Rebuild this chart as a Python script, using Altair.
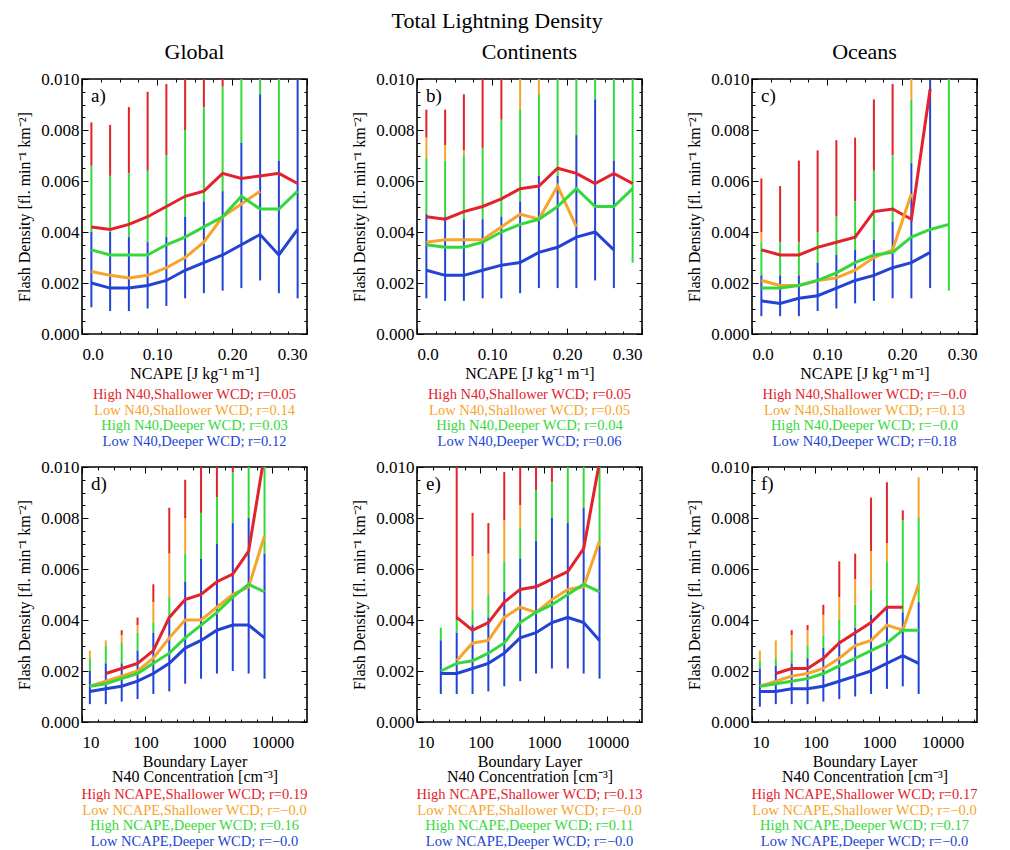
import altair as alt
import pandas as pd

FONT = "Liberation Serif"
W, H = 225, 255

SERIES = ["red", "orange", "green", "blue"]
COLORS = ["#e3222b", "#f6a52a", "#35d83c", "#2243d3"]

# bin centres
NCAPE_X = [0.0125, 0.0375, 0.0625, 0.0875, 0.1125, 0.1375, 0.1625, 0.1875, 0.2125, 0.2375, 0.2625, 0.2875]
N40_X = [13.3, 23.7, 42.2, 75.0, 133, 237, 422, 750, 1334, 2371, 4217, 7499]

# tick positions
NCAPE_MAJOR = [0.0, 0.1, 0.2, 0.3]
NCAPE_MINOR = [0.025, 0.05, 0.075, 0.125, 0.15, 0.175, 0.225, 0.25, 0.275]
N40_MAJOR = [10, 100, 1000, 10000]
N40_MINOR = [17.8, 31.6, 56.2, 178, 316, 562, 1778, 3162, 5623, 17783, 31623]
Y_MAJOR = [0.0, 0.002, 0.004, 0.006, 0.008, 0.010]
Y_MINOR = [0.0005, 0.001, 0.0015, 0.0025, 0.003, 0.0035, 0.0045, 0.005, 0.0055,
           0.0065, 0.007, 0.0075, 0.0085, 0.009, 0.0095]

# ---- a) Global vs NCAPE
A_RED = [0.0042, 0.0041, 0.0043, 0.0046, 0.0050, 0.0054, 0.0056, 0.0063, 0.0061, 0.0062, 0.0063, 0.0059]
A_RED_HI = [0.0083, 0.0082, 0.0089, 0.0095, 0.0098, 0.0112, 0.0118, 0.0121, 0.0110, 0.0105, 0.0100, 0.0095]
A_ORG = [0.00245, 0.0023, 0.0022, 0.0023, 0.0026, 0.0030, 0.0036, 0.0046, 0.0051, 0.0056, None, None]
A_ORG_HI = [0.0060, 0.0058, 0.0060, 0.0062, 0.0066, 0.0075, 0.0085, 0.0093, 0.0098, 0.0100, None, None]
A_GRN = [0.0033, 0.0031, 0.0031, 0.0031, 0.0035, 0.0038, 0.0042, 0.0046, 0.0054, 0.0049, 0.0049, 0.0056]
A_GRN_HI = [0.0066, 0.0062, 0.0063, 0.0064, 0.0070, 0.0080, 0.0089, 0.0097, 0.0125, 0.0120, 0.0115, 0.0098]
A_BLU = [0.0020, 0.0018, 0.0018, 0.0019, 0.0021, 0.0025, 0.0028, 0.0031, 0.0035, 0.0039, 0.0031, 0.0041]
A_BLU_HI = [0.0040, 0.0040, 0.0038, 0.0036, 0.0038, 0.0046, 0.0052, 0.0056, 0.0075, 0.0094, 0.0068, 0.0110]
A_LO = [0.00105, 0.0009, 0.0009, 0.0010, 0.0011, 0.0014, 0.0016, 0.0017, 0.0018, 0.0021, 0.0016, 0.0014]

# ---- b) Continents vs NCAPE
B_RED = [0.0046, 0.0045, 0.0048, 0.0050, 0.0053, 0.0057, 0.0058, 0.0065, 0.0063, 0.0059, 0.0063, 0.0059]
B_RED_HI = [0.0088, 0.0088, 0.0094, 0.0110, 0.0115, 0.0105, 0.0105, 0.0110, 0.0110, 0.0105, 0.0100, 0.0095]
B_ORG = [0.0036, 0.0037, 0.0037, 0.0037, 0.0042, 0.0047, 0.0045, 0.0058, 0.0042, None, None, None]
B_ORG_HI = [0.0077, 0.0074, 0.0072, 0.0070, 0.0080, 0.0115, 0.0115, 0.0100, 0.0095, None, None, None]
B_GRN = [0.0035, 0.0034, 0.0034, 0.0036, 0.0040, 0.0043, 0.0045, 0.0050, 0.0057, 0.0050, 0.0050, 0.0057]
B_GRN_HI = [0.0069, 0.0068, 0.0070, 0.0073, 0.0084, 0.0088, 0.0094, 0.0120, 0.0120, 0.0120, 0.0120, 0.0110]
B_BLU = [0.0025, 0.0023, 0.0023, 0.0025, 0.0027, 0.0028, 0.0032, 0.0034, 0.0038, 0.0040, 0.0033, None]
B_BLU_HI = [0.0047, 0.0046, 0.0045, 0.0045, 0.0046, 0.0052, 0.0062, 0.0062, 0.0078, 0.0092, 0.0068, None]
B_LO = [0.0014, 0.0013, 0.0013, 0.0014, 0.0014, 0.0016, 0.0018, 0.0018, 0.0018, 0.0021, 0.0018, 0.0028]

# ---- c) Oceans vs NCAPE
C_RED = [0.0033, 0.0031, 0.0031, 0.0034, 0.0036, 0.0038, 0.0048, 0.0049, 0.0045, 0.0096, None, None]
C_RED_HI = [0.0061, 0.0058, 0.0068, 0.0072, 0.0076, 0.0077, 0.0092, 0.0098, 0.0090, 0.0105, None, None]
C_ORG = [0.0021, 0.0019, 0.0019, 0.0021, 0.0022, 0.0025, 0.0030, 0.0033, 0.0055, None, None, None]
C_ORG_HI = [0.0040, 0.0034, 0.0034, 0.0038, 0.0044, 0.0050, 0.0060, 0.0066, 0.0100, None, None, None]
C_GRN = [0.0018, 0.0018, 0.0019, 0.0021, 0.0024, 0.0028, 0.0031, 0.0032, 0.0038, 0.0041, 0.0043, None]
C_GRN_HI = [0.0036, 0.0036, 0.0036, 0.0040, 0.0046, 0.0052, 0.0064, 0.0070, 0.0092, 0.0100, 0.0115, None]
C_BLU = [0.0013, 0.0012, 0.0014, 0.0015, 0.0018, 0.0021, 0.0023, 0.0026, 0.0028, 0.0032, None, None]
C_BLU_HI = [0.0023, 0.0023, 0.0023, 0.0028, 0.0031, 0.0033, 0.0037, 0.0044, 0.0067, 0.0115, None, None]
C_LO = [0.0007, 0.0007, 0.0007, 0.0009, 0.0010, 0.0012, 0.0013, 0.0014, 0.0014, 0.0018, 0.0017, None]

# ---- d) Global vs N40
D_RED = [None, 0.0019, 0.0021, 0.0023, 0.0028, 0.0041, 0.0048, 0.0050, 0.0055, 0.0058, 0.0067, 0.0105]
D_RED_HI = [None, 0.0030, 0.0036, 0.0041, 0.0054, 0.0084, 0.0095, 0.0115, 0.0120, 0.0115, 0.0100, 0.0100]
D_ORG = [0.0014, 0.0016, 0.0018, 0.0020, 0.0025, 0.0033, 0.0040, 0.0040, 0.0045, 0.0050, 0.0053, 0.0073]
D_ORG_HI = [0.0028, 0.0032, 0.0034, 0.0038, 0.0047, 0.0066, 0.0080, 0.0080, 0.0085, 0.0095, 0.0098, 0.0100]
D_GRN = [0.0014, 0.0015, 0.0017, 0.0019, 0.0023, 0.0027, 0.0033, 0.0038, 0.0043, 0.0049, 0.0054, 0.0051]
D_GRN_HI = [0.0025, 0.0030, 0.0031, 0.0035, 0.0039, 0.0049, 0.0066, 0.0082, 0.0088, 0.0098, 0.0120, 0.0120]
D_BLU = [0.0012, 0.0013, 0.0014, 0.0016, 0.0019, 0.0023, 0.0029, 0.0032, 0.0036, 0.0038, 0.0038, 0.0033]
D_BLU_HI = [0.0020, 0.0023, 0.0023, 0.0028, 0.0035, 0.0041, 0.0055, 0.0064, 0.0070, 0.0078, 0.0080, 0.0066]
D_LO = [0.0007, 0.0007, 0.0008, 0.0009, 0.0011, 0.0012, 0.0015, 0.0017, 0.0019, 0.0020, 0.0019, 0.0017]

# ---- e) Continents vs N40
E_RED = [None, None, 0.0041, 0.0036, 0.0039, 0.0047, 0.0052, 0.0053, 0.0056, 0.0059, 0.0068, 0.0102]
E_RED_HI = [None, None, 0.0200, 0.0082, 0.0078, 0.0098, 0.0110, 0.0110, 0.0110, 0.0100, 0.0100, 0.0100]
E_ORG = [None, None, 0.0024, 0.0031, 0.0032, 0.0041, 0.0045, 0.0043, 0.0048, 0.0052, 0.0053, 0.0071]
E_ORG_HI = [None, None, 0.0040, 0.0065, 0.0066, 0.0079, 0.0085, 0.0088, 0.0090, 0.0095, 0.0095, 0.0095]
E_GRN = [None, 0.0020, 0.0023, 0.0024, 0.0027, 0.0031, 0.0039, 0.0043, 0.0046, 0.0050, 0.0054, 0.0051]
E_GRN_HI = [None, 0.0037, 0.0040, 0.0044, 0.0050, 0.0063, 0.0076, 0.0091, 0.0094, 0.0120, 0.0120, 0.0120]
E_BLU = [None, 0.0019, 0.0019, 0.0021, 0.0023, 0.0027, 0.0033, 0.0035, 0.0039, 0.0041, 0.0039, 0.0032]
E_BLU_HI = [None, 0.0032, 0.0035, 0.0038, 0.0041, 0.0051, 0.0064, 0.0071, 0.0080, 0.0078, 0.0084, 0.0069]
E_LO = [None, 0.0011, 0.0011, 0.0011, 0.0012, 0.0014, 0.0016, 0.0019, 0.0021, 0.0021, 0.0019, 0.0017]

# ---- f) Oceans vs N40
F_RED = [None, 0.0019, 0.0021, 0.0021, 0.0025, 0.0031, 0.0035, 0.0039, 0.0045, 0.0045, None, None]
F_RED_HI = [None, 0.0030, 0.0036, 0.0038, 0.0046, 0.0063, 0.0066, 0.0088, 0.0094, 0.0083, None, None]
F_ORG = [0.0014, 0.0016, 0.0018, 0.0019, 0.0021, 0.0025, 0.0030, 0.0032, 0.0038, 0.0036, 0.0054, None]
F_ORG_HI = [0.0028, 0.0032, 0.0034, 0.0036, 0.0042, 0.0049, 0.0056, 0.0067, 0.0070, 0.0075, 0.0096, None]
F_GRN = [0.0014, 0.0015, 0.0016, 0.0017, 0.0019, 0.0022, 0.0025, 0.0028, 0.0031, 0.0036, 0.0036, None]
F_GRN_HI = [0.0024, 0.0025, 0.0028, 0.0030, 0.0034, 0.0040, 0.0046, 0.0052, 0.0063, 0.0079, 0.0080, None]
F_BLU = [0.0012, 0.0012, 0.0013, 0.0013, 0.0014, 0.0016, 0.0018, 0.0020, 0.0023, 0.0026, 0.0023, None]
F_BLU_HI = [0.0021, 0.0022, 0.0023, 0.0025, 0.0029, 0.0032, 0.0037, 0.0042, 0.0045, 0.0043, 0.0047, None]
F_LO = [0.0006, 0.0007, 0.0007, 0.0007, 0.0008, 0.0009, 0.0010, 0.0011, 0.0013, 0.0014, 0.0011, None]

LEG_A = ["High N40,Shallower WCD; r=0.05", "Low N40,Shallower WCD; r=0.14",
         "High N40,Deeper WCD; r=0.03", "Low N40,Deeper WCD; r=0.12"]
LEG_B = ["High N40,Shallower WCD; r=0.05", "Low N40,Shallower WCD; r=0.05",
         "High N40,Deeper WCD; r=0.04", "Low N40,Deeper WCD; r=0.06"]
LEG_C = ["High N40,Shallower WCD; r=\u22120.0", "Low N40,Shallower WCD; r=0.13",
         "High N40,Deeper WCD; r=\u22120.0", "Low N40,Deeper WCD; r=0.18"]
LEG_D = ["High NCAPE,Shallower WCD; r=0.19", "Low NCAPE,Shallower WCD; r=\u22120.0",
         "High NCAPE,Deeper WCD; r=0.16", "Low NCAPE,Deeper WCD; r=\u22120.0"]
LEG_E = ["High NCAPE,Shallower WCD; r=0.13", "Low NCAPE,Shallower WCD; r=\u22120.0",
         "High NCAPE,Deeper WCD; r=0.11", "Low NCAPE,Deeper WCD; r=\u22120.0"]
LEG_F = ["High NCAPE,Shallower WCD; r=0.17", "Low NCAPE,Shallower WCD; r=\u22120.0",
         "High NCAPE,Deeper WCD; r=0.17", "Low NCAPE,Deeper WCD; r=\u22120.0"]

Y_TITLE = "Flash Density [fl. min\u207b\u00b9 km\u207b\u00b2]"
NCAPE_TITLE = "NCAPE [J kg\u207b\u00b9 m\u207b\u00b9]"
N40_TITLE = ["Boundary Layer", "N40 Concentration [cm\u207b\u00b3]"]


def tick_axis(orient, values, size):
    # ticks pointing into the frame: shift the axis inside by its own tick length
    return alt.Axis(orient=orient, values=values, offset=-size, tickSize=size, labels=False,
                    domain=False, grid=False, title="", tickColor="black", tickWidth=1)


def panel(tag, xs, lo, curves, legend, log=False, title=None):
    bar_rows, line_rows = [], []
    for k, (name, (mean, hi)) in enumerate(zip(SERIES, curves)):
        for i, x in enumerate(xs):
            if mean[i] is None:
                continue
            line_rows.append({"x": x, "mean": mean[i], "s": name})
            # only the part of the whisker not painted over by a later series
            later = [c[1][i] for c in curves[k + 1:] if c[1][i] is not None]
            bottom = max([lo[i]] + later)
            if bottom < hi[i]:
                bar_rows.append({"x": x, "lo": bottom, "hi": hi[i], "s": name})
    bars_df = pd.DataFrame(bar_rows)
    lines_df = pd.DataFrame(line_rows)

    if log:
        xscale = alt.Scale(type="log", domain=[10, 35000], nice=False)
        xmaj, xmin = N40_MAJOR, N40_MINOR
        xaxis = alt.Axis(values=N40_MAJOR, labelExpr="format(datum.value, 'd')", title=N40_TITLE,
                         ticks=False, tickSize=0, domain=False, labelPadding=12, titlePadding=3,
                         titleLineHeight=15)
        leg_y = H + 73
    else:
        xscale = alt.Scale(domain=[0, 0.3], nice=False)
        xmaj, xmin = NCAPE_MAJOR, NCAPE_MINOR
        xaxis = alt.Axis(values=NCAPE_MAJOR, title=NCAPE_TITLE, ticks=False, tickSize=0, domain=False,
                         labelExpr="datum.value == 0 ? '0.0' : format(datum.value, '.2f')",
                         labelPadding=12, titlePadding=3)
        leg_y = H + 61
    yscale = alt.Scale(domain=[0, 0.01], nice=False)
    yaxis = alt.Axis(values=Y_MAJOR, format=".3f", title=Y_TITLE, ticks=False, tickSize=0,
                     domain=False, labelPadding=3, titlePadding=8)
    cscale = alt.Scale(domain=SERIES, range=COLORS)

    bars = alt.Chart(bars_df).mark_rule(strokeWidth=2, clip=True).encode(
        x=alt.X("x:Q", scale=xscale, axis=xaxis),
        y=alt.Y("lo:Q", scale=yscale, axis=yaxis), y2="hi:Q",
        color=alt.Color("s:N", scale=cscale, legend=None),
    )
    base = alt.Chart(lines_df)
    lines = base.mark_line(strokeWidth=3, clip=True).encode(
        x=alt.X("x:Q", scale=xscale, axis=tick_axis("bottom", xmaj, 6)),
        y=alt.Y("mean:Q", scale=yscale, axis=tick_axis("left", Y_MAJOR, 6)),
        color=alt.Color("s:N", scale=cscale, legend=None),
    )
    layers = [bars, lines]
    for xo, yo, xv, yv, size in [("top", "right", xmaj, Y_MAJOR, 6),
                                 ("bottom", "left", xmin, Y_MINOR, 3),
                                 ("top", "right", xmin, Y_MINOR, 3)]:
        layers.append(base.mark_point(opacity=0).encode(
            x=alt.X("x:Q", scale=xscale, axis=tick_axis(xo, xv, size)),
            y=alt.Y("mean:Q", scale=yscale, axis=tick_axis(yo, yv, size)),
        ))
    layers.append(alt.Chart(pd.DataFrame({"t": [tag]})).mark_text(
        font=FONT, fontSize=19, align="left", baseline="top", color="black",
    ).encode(text="t:N", x=alt.value(9), y=alt.value(8)))
    for i, (line, col) in enumerate(zip(legend, COLORS)):
        layers.append(alt.Chart(pd.DataFrame({"t": [line]})).mark_text(
            font=FONT, fontSize=14.5, align="center", baseline="middle", color=col,
        ).encode(text="t:N", x=alt.value(W / 2), y=alt.value(leg_y + 15.6 * i)))

    chart = alt.layer(*layers).resolve_axis(x="independent", y="independent").properties(width=W, height=H)
    if title:
        chart = chart.properties(title=alt.Title(title, fontSize=22, font=FONT, fontWeight="normal", offset=6))
    return chart


pa = panel("a)", NCAPE_X, A_LO, [(A_RED, A_RED_HI), (A_ORG, A_ORG_HI), (A_GRN, A_GRN_HI), (A_BLU, A_BLU_HI)], LEG_A, title="Global")
pb = panel("b)", NCAPE_X, B_LO, [(B_RED, B_RED_HI), (B_ORG, B_ORG_HI), (B_GRN, B_GRN_HI), (B_BLU, B_BLU_HI)], LEG_B, title="Continents")
pc = panel("c)", NCAPE_X, C_LO, [(C_RED, C_RED_HI), (C_ORG, C_ORG_HI), (C_GRN, C_GRN_HI), (C_BLU, C_BLU_HI)], LEG_C, title="Oceans")
pd_ = panel("d)", N40_X, D_LO, [(D_RED, D_RED_HI), (D_ORG, D_ORG_HI), (D_GRN, D_GRN_HI), (D_BLU, D_BLU_HI)], LEG_D, log=True)
pe = panel("e)", N40_X, E_LO, [(E_RED, E_RED_HI), (E_ORG, E_ORG_HI), (E_GRN, E_GRN_HI), (E_BLU, E_BLU_HI)], LEG_E, log=True)
pf = panel("f)", N40_X, F_LO, [(F_RED, F_RED_HI), (F_ORG, F_ORG_HI), (F_GRN, F_GRN_HI), (F_BLU, F_BLU_HI)], LEG_F, log=True)

chart = alt.concat(
    pa, pb, pc, pd_, pe, pf, columns=3, spacing={"row": 0, "column": 41},
).properties(
    title=alt.Title("Total Lightning Density", fontSize=22, font=FONT, fontWeight="normal",
                    anchor="middle", offset=7),
    padding={"left": 7, "top": 2, "right": 0, "bottom": 0},
).configure_view(
    stroke="black", strokeWidth=1.6,
).configure_axis(
    grid=False, labelFont=FONT, titleFont=FONT, labelFontSize=17, titleFontSize=16,
    labelColor="black", titleColor="black", titleFontWeight="normal",
)

chart.save("out.html", embed_options={"renderer": "svg", "actions": False})
